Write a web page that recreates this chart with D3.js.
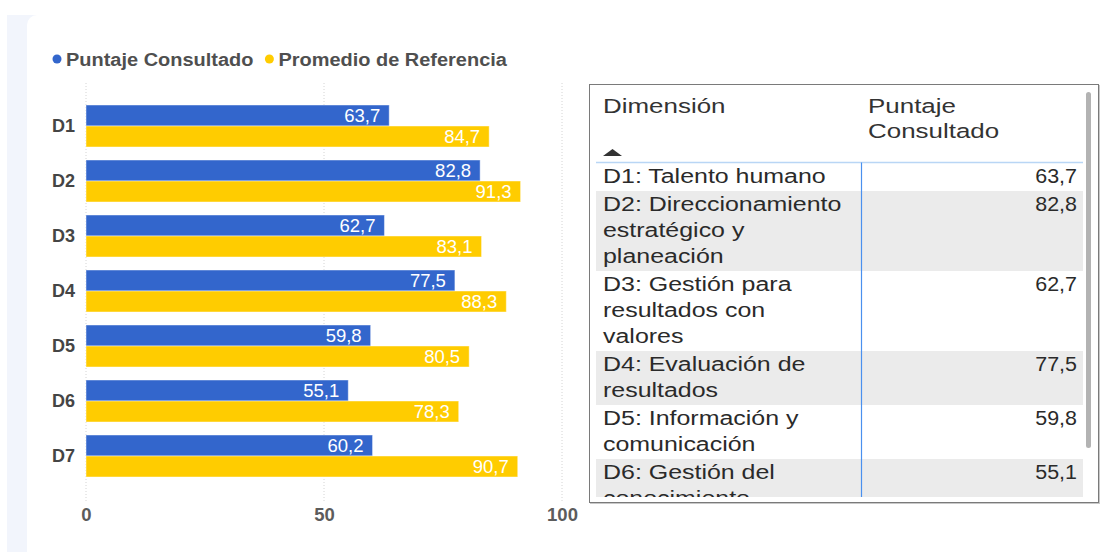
<!DOCTYPE html>
<html>
<head>
<meta charset="utf-8">
<script src="https://cdn.jsdelivr.net/npm/d3@7"></script>
<style>
  body { margin: 0; background: #fff; }
  svg { display: block; font-family: "Liberation Sans", Arial, sans-serif; }
</style>
</head>
<body>
<script>
var categories = ['D1', 'D2', 'D3', 'D4', 'D5', 'D6', 'D7'];
var seriesNames = ['Puntaje Consultado', 'Promedio de Referencia'];
var puntaje = [63.7, 82.8, 62.7, 77.5, 59.8, 55.1, 60.2];
var promedio = [84.7, 91.3, 83.1, 88.3, 80.5, 78.3, 90.7];
var xTicks = [0, 50, 100];
var colors = ['#3366cc', '#ffcc00'];

// table text (already wrapped as in the picture)
var tableHeaders = [['Dimensión'], ['Puntaje', 'Consultado']];
var dimensiones = [
    ['D1: Talento humano'],
    ['D2: Direccionamiento', 'estratégico y', 'planeación'],
    ['D3: Gestión para', 'resultados con', 'valores'],
    ['D4: Evaluación de', 'resultados'],
    ['D5: Información y', 'comunicación'],
    ['D6: Gestión del', 'conocimiento'],
    ['D7: Control interno']
];

var width = 1102, height = 552;
var locale = d3.formatLocale({ decimal: ',', thousands: '.', grouping: [3], currency: ['', ''] });
var fmt = locale.format('.1f');

var svg = d3.select('body').append('svg')
    .attr('width', width)
    .attr('height', height);

// page background + card
svg.append('rect').attr('x', 7).attr('y', 15).attr('width', 40).attr('height', height - 15).attr('fill', '#f2f5fc');
svg.append('rect').attr('x', 27).attr('y', 15).attr('width', width).attr('height', height + 20)
    .attr('rx', 10).attr('fill', '#fff');

// ---- bar chart ----
var x = d3.scaleLinear().domain([0, 100]).range([86, 562]);
var y = d3.scaleBand().domain(categories).range([98.5, 483.5])
    .paddingInner(13 / 55).paddingOuter(6.5 / 55);
var ySub = d3.scaleBand().domain(seriesNames).range([0, y.bandwidth()]);

var rows = categories.map(function (c, i) {
    return { cat: c, values: [
        { name: seriesNames[0], value: puntaje[i] },
        { name: seriesNames[1], value: promedio[i] }
    ] };
});

// grid
svg.append('g').selectAll('line')
    .data(xTicks)
  .enter().append('line')
    .attr('x1', function (d) { return x(d); })
    .attr('x2', function (d) { return x(d); })
    .attr('y1', 83)
    .attr('y2', 502)
    .attr('stroke', '#d4d4d4')
    .attr('stroke-dasharray', '1,2');

// x axis
var xAxis = svg.append('g')
    .attr('transform', 'translate(0,521)')
    .call(d3.axisBottom(x).tickValues(xTicks).tickSize(0).tickPadding(0));
xAxis.select('.domain').remove();
xAxis.selectAll('text')
    .attr('dy', 0)
    .attr('fill', '#5c5c5c')
    .style('font-size', '18.5px')
    .style('font-weight', 'bold')
    .style('font-family', '"Liberation Sans", Arial, sans-serif');

// y axis
var yAxis = svg.append('g')
    .attr('transform', 'translate(75,0)')
    .call(d3.axisLeft(y).tickSize(0).tickPadding(0));
yAxis.select('.domain').remove();
yAxis.selectAll('text')
    .attr('dy', '0.35em')
    .attr('fill', '#454545')
    .style('font-size', '18px')
    .style('font-weight', 'bold')
    .style('font-family', '"Liberation Sans", Arial, sans-serif');

var groups = svg.append('g').selectAll('g')
    .data(rows)
  .enter().append('g')
    .attr('transform', function (d) { return 'translate(0,' + y(d.cat) + ')'; });

groups.selectAll('rect')
    .data(function (d) { return d.values; })
  .enter().append('rect')
    .attr('x', x(0))
    .attr('y', function (d) { return ySub(d.name); })
    .attr('width', function (d) { return x(d.value) - x(0); })
    .attr('height', ySub.bandwidth())
    .attr('fill', function (d, i) { return colors[i]; })
    .attr('stroke', 'rgba(255,255,255,0.45)')
    .attr('stroke-width', 1);

groups.selectAll('text')
    .data(function (d) { return d.values; })
  .enter().append('text')
    .attr('x', function (d) { return x(d.value) - 9; })
    .attr('y', function (d) { return ySub(d.name) + ySub.bandwidth() / 2; })
    .attr('dy', '0.36em')
    .attr('text-anchor', 'end')
    .attr('fill', '#fff')
    .style('font-size', '18.5px')
    .text(function (d) { return fmt(d.value); });

// legend
var legend = svg.append('g').attr('transform', 'translate(57,59)');
var lx = 0;
seriesNames.forEach(function (name, i) {
    var item = legend.append('g').attr('transform', 'translate(' + lx + ',0)');
    item.append('circle').attr('r', 4.5).attr('fill', colors[i]);
    var t = item.append('text')
        .attr('transform', 'translate(9,0) scale(1.04,1)')
        .attr('dy', '0.36em')
        .attr('fill', '#4f4f4f')
        .style('font-size', '19.2px')
        .style('font-weight', 'bold')
        .text(name);
    lx += 9 + t.node().getComputedTextLength() * 1.04 + 16;
});

// ---- table ----
var tbl = { x: 589.5, y: 84.5, w: 509, h: 418 };
var colX = [603, 868];
var divX = 861.5;
var headBottom = 162.5;
var lineH = 26;
var clipBottom = 497;
var sx = 1.28;

svg.append('rect')
    .attr('x', tbl.x + 1).attr('y', tbl.y + 1)
    .attr('width', tbl.w).attr('height', tbl.h)
    .attr('fill', 'none').attr('stroke', '#c8c8c8');
svg.append('rect')
    .attr('x', tbl.x).attr('y', tbl.y)
    .attr('width', tbl.w).attr('height', tbl.h)
    .attr('fill', '#fff').attr('stroke', '#7a7a7a');

function stretchedText (g, str, px, py, scale, anchor) {
    return g.append('text')
        .attr('transform', 'translate(' + px + ',' + py + ') scale(' + scale + ',1)')
        .attr('text-anchor', anchor || 'start')
        .attr('fill', '#2a2a2a')
        .style('font-size', '19.5px')
        .text(str);
}

tableHeaders.forEach(function (lines, c) {
    lines.forEach(function (line, k) {
        stretchedText(svg, line, colX[c], 113 + k * 25, 1.33).attr('fill', '#333');
    });
});
// sort arrow
svg.append('path')
    .attr('d', 'M603,156 L612.5,149 L622,156 Z')
    .attr('fill', '#333');

svg.append('defs').append('clipPath').attr('id', 'tclip')
  .append('rect')
    .attr('x', tbl.x).attr('y', headBottom)
    .attr('width', tbl.w).attr('height', clipBottom - headBottom);

var body = svg.append('g').attr('clip-path', 'url(#tclip)');
var rowTop = 163;
dimensiones.forEach(function (lines, i) {
    var h = lines.length * lineH + 2;
    var rg = body.append('g');
    if (i % 2 === 1) {
        rg.append('rect')
            .attr('x', 596).attr('y', rowTop)
            .attr('width', 487).attr('height', h)
            .attr('fill', '#ebebeb');
    }
    lines.forEach(function (line, k) {
        stretchedText(rg, line, colX[0], rowTop + 20 + k * lineH, sx);
    });
    if (i < puntaje.length) {
        stretchedText(rg, fmt(puntaje[i]), 1077, rowTop + 20, 1.1, 'end');
    }
    rowTop += h;
});

svg.append('line')
    .attr('x1', 596).attr('x2', 1083)
    .attr('y1', headBottom).attr('y2', headBottom)
    .attr('stroke', '#b9d6f5').attr('stroke-width', 1.5);
svg.append('line')
    .attr('x1', divX).attr('x2', divX)
    .attr('y1', headBottom).attr('y2', clipBottom)
    .attr('stroke', '#4a90ee').attr('stroke-width', 1.2);

// scrollbar
svg.append('rect')
    .attr('x', 1086).attr('y', 92)
    .attr('width', 5).attr('height', 356)
    .attr('rx', 2.5)
    .attr('fill', '#b3b3b3');
</script>
</body>
</html>
